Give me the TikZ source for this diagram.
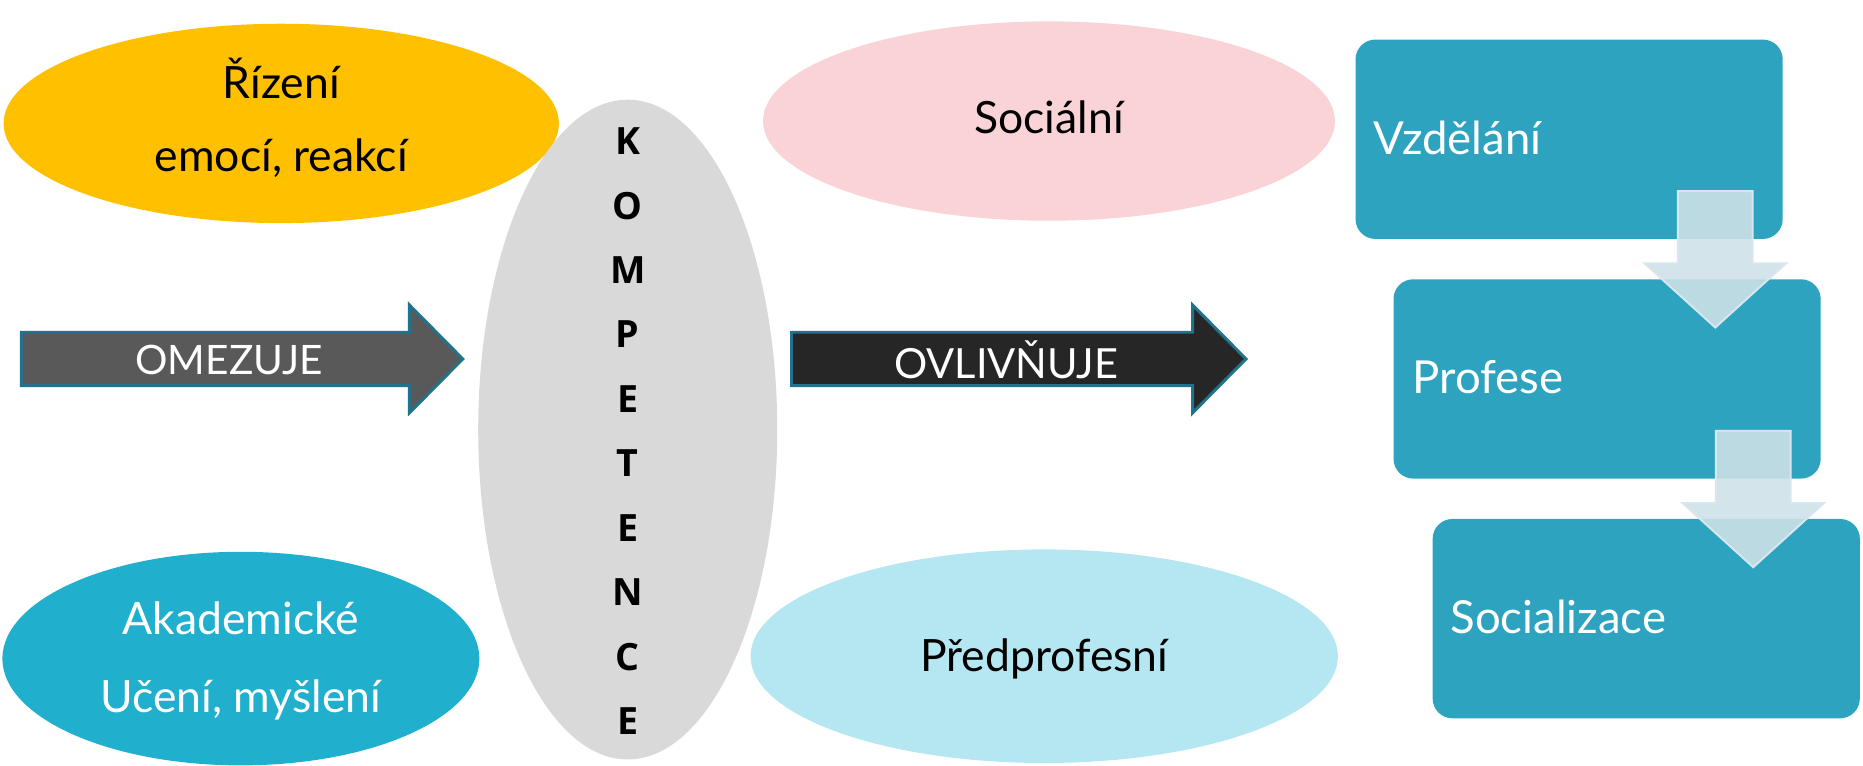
\documentclass[tikz,border=0pt]{standalone}
\usepackage{fontspec}
\setmainfont{Lato}
\newfontfamily\kfont{Open Sans}
\usetikzlibrary{shapes.geometric}
\definecolor{corange}{HTML}{FFC000}
\definecolor{cblue}{HTML}{21AFCE}
\definecolor{cgrey}{HTML}{D9D9D9}
\definecolor{cpink}{HTML}{F9D3D5}
\definecolor{ccyan}{HTML}{B4E7F2}
\definecolor{cbox}{HTML}{2EA3BF}
\definecolor{carrowA}{HTML}{595959}
\definecolor{carrowB}{HTML}{262626}
\definecolor{cedge}{HTML}{21728A}
\definecolor{cdown}{RGB}{206,225,231}
\definecolor{cdownedge}{RGB}{216,231,237}
\tikzset{
  blob/.style={ellipse, draw=none, inner sep=0pt},
  lbl/.style={font=\fontsize{22.5}{37}\selectfont, align=center, inner sep=0pt},
  wlbl/.style={lbl, text=white},
  bigarrow/.style={draw=cedge, line width=1.5pt, line join=miter},
  stagebox/.style={fill=cbox, rounded corners=10pt, anchor=north west,
    minimum width=216pt, minimum height=100.8pt, inner sep=0pt},
  boxlbl/.style={font=\fontsize{23}{25}\selectfont, text=white, anchor=west, inner sep=0pt},
  downarrow/.style={fill=cdown, fill opacity=0.89, draw=cdownedge, line width=1pt, line join=miter},
  kletter/.style={font=\kfont\bfseries\fontsize{19}{19}\selectfont, inner sep=0pt}
}
\begin{document}
\begin{tikzpicture}[x=0.6pt,y=-0.6pt]
\useasboundingbox (0,0) rectangle (1570,645);

% ellipses
\node[blob, fill=corange, minimum width=280.8pt, minimum height=100.8pt] (emo) at (237,104) {};
\node[blob, fill=cblue, minimum width=241.2pt, minimum height=108pt] (aka) at (203,555) {};
\node[blob, fill=cgrey, minimum width=151.2pt, minimum height=333.6pt] (komp) at (529,362) {};
\node[blob, fill=cpink, minimum width=289.2pt, minimum height=100.8pt] (soc) at (884,102) {};
\node[blob, fill=ccyan, minimum width=297pt, minimum height=108pt] (pred) at (880,553) {};

\node[lbl] (emotext) at (237,99) {Řízení\\emocí, reakcí};
\node[wlbl, font=\fontsize{22.5}{39}\selectfont] (akatext) at (203,557) {Akademické\\Učení, myšlení};
\node[lbl] (soctext) at (884,99) {Sociální};
\node[lbl] (predtext) at (880,555) {Předprofesní};

% KOMPETENCE letters
\foreach \l [count=\i from 0] in {K,O,M,P,E,T,E,N,C,E}
  \node[kletter] (k\i) at (529,{119+54.3*\i}) {\l};

% big arrows
\draw[bigarrow, fill=carrowA] (18,280) -- (345,280) -- (345,257) -- (390,302.5)
  -- (345,348) -- (345,325) -- (18,325) -- cycle;
\node[wlbl, font=\fontsize{20.5}{24}\selectfont] (omez) at (193,303) {OMEZUJE};
\draw[bigarrow, fill=carrowB] (667,280) -- (1005,280) -- (1005,257) -- (1050,302.5)
  -- (1005,348) -- (1005,325) -- (667,325) -- cycle;
\node[wlbl, font=\fontsize{21}{24}\selectfont] (ovl) at (848,303) {OVLIVŇUJE};

% process boxes
\node[stagebox] (b1) at (1142,33) {};
\node[stagebox] (b2) at (1174,235) {};
\node[stagebox] (b3) at (1207,437) {};
\node[boxlbl] (b1t) at (1157,116) {Vzdělání};
\node[boxlbl] (b2t) at (1190,318) {Profese};
\node[boxlbl] (b3t) at (1222,520) {Socializace};

% down arrows
\draw[downarrow] (1414,161) -- (1477,161) -- (1477,222) -- (1505,222) -- (1445.5,276)
  -- (1386,222) -- (1414,222) -- cycle;
\draw[downarrow] (1446,363) -- (1509,363) -- (1509,424) -- (1537,424) -- (1477.5,478)
  -- (1418,424) -- (1446,424) -- cycle;
\end{tikzpicture}
\end{document}
